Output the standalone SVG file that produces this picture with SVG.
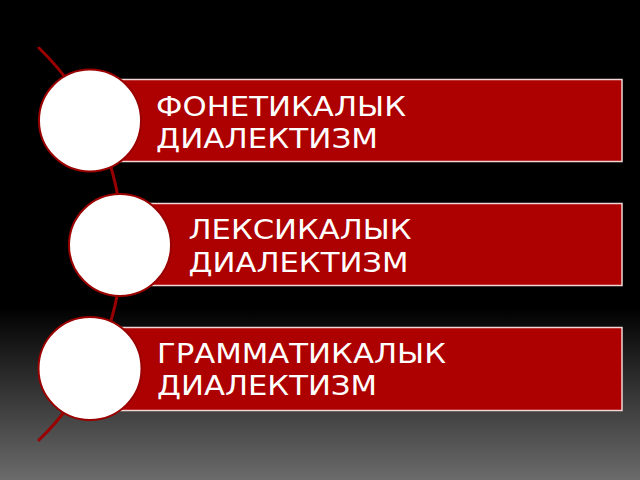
<svg xmlns="http://www.w3.org/2000/svg" width="640" height="480" viewBox="0 0 640 480">
<defs>
<linearGradient id="bg" x1="0" y1="0" x2="0" y2="1">
<stop offset="0" stop-color="#000000"/>
<stop offset="0.64" stop-color="#000000"/>
<stop offset="1" stop-color="#6b6b6b"/>
</linearGradient>
</defs>
<style>
.box{fill:#ad0000;stroke:#f2d6d6;stroke-width:1.5}
.dot{fill:#ffffff;stroke:#9a0000;stroke-width:2}
.lbl{font-family:"DejaVu Sans",sans-serif;font-size:26.5px;fill:#ffffff}
.arc{fill:none;stroke:#9a0000;stroke-width:3;stroke-linecap:round}
</style>
<rect x="0" y="0" width="640" height="480" fill="url(#bg)"/>
<g id="connectors">
<path class="arc" d="M39 48 A273 273 0 0 1 39 440"/>
</g>
<g id="node1">
<rect class="box" x="100" y="79.5" width="522" height="82"/>
<circle class="dot" cx="90" cy="120.5" r="51"/>
<text class="lbl" x="156" y="116" textLength="250" lengthAdjust="spacingAndGlyphs">ФОНЕТИКАЛЫК</text>
<text class="lbl" x="156" y="147.5" textLength="222" lengthAdjust="spacingAndGlyphs">ДИАЛЕКТИЗМ</text>
</g>
<g id="node2">
<rect class="box" x="130" y="203.5" width="492" height="82"/>
<circle class="dot" cx="120" cy="245" r="51"/>
<text class="lbl" x="188.5" y="239" textLength="223" lengthAdjust="spacingAndGlyphs">ЛЕКСИКАЛЫК</text>
<text class="lbl" x="188.5" y="271.5" textLength="220" lengthAdjust="spacingAndGlyphs">ДИАЛЕКТИЗМ</text>
</g>
<g id="node3">
<rect class="box" x="100" y="327.5" width="522" height="83"/>
<circle class="dot" cx="90" cy="368.5" r="51.5"/>
<text class="lbl" x="157" y="363" textLength="289" lengthAdjust="spacingAndGlyphs">ГРАММАТИКАЛЫК</text>
<text class="lbl" x="157" y="395" textLength="220" lengthAdjust="spacingAndGlyphs">ДИАЛЕКТИЗМ</text>
</g>
</svg>
